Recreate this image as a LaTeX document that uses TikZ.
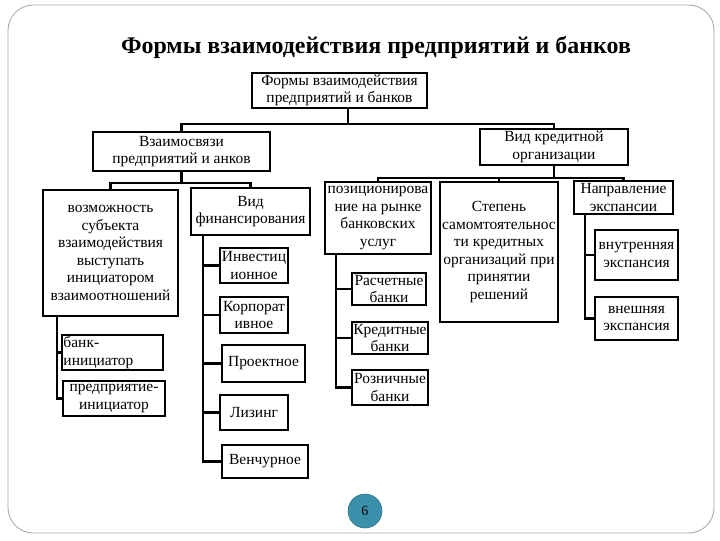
\documentclass[tikz,border=0pt]{standalone}
\usepackage{fontspec}
\setmainfont{Liberation Serif}
\usetikzlibrary{positioning}
\definecolor{pnum}{RGB}{58,143,170}

\begin{document}
\begin{tikzpicture}[
   x=0.025cm,y=-0.025cm,
   box/.style={draw,line width=2.1pt,align=center,inner sep=1pt,
               font=\fontsize{11}{12.5}\selectfont},
   sz/.style 2 args={minimum width=#1*0.025cm,minimum height=#2*0.025cm},
   conn/.style={line width=1.8pt}
 ]
  \useasboundingbox (0,0) rectangle (720,540);
  \draw[gray!70,line width=0.6pt,rounded corners=18pt] (8,5) rectangle (714,533);
  \node[font=\fontsize{17}{20}\selectfont\bfseries] (title) at (376,47) {Формы взаимодействия предприятий и банков};

  \node[box,sz={175}{35}] (root) at (339.5,90.5) {Формы взаимодействия\\предприятий и банков};
  \node[box,sz={177}{39}] (vz) at (181.5,151.5) {Взаимосвязи\\предприятий и анков};
  \node[box,sz={148}{36}] (vid) at (554,147) {Вид кредитной\\организации};

  \node[box,sz={135}{126}] (vozm) at (110.5,253) {возможность\\субъекта\\взаимодействия\\выступать\\инициатором\\взаимоотношений};
  \node[box,sz={101}{35},align=left,text width=2.45cm] (bank) at (112.5,352.5) {банк-\\инициатор};
  \node[box,sz={102}{35}] (pred) at (114,398.5) {предприятие-\\инициатор};

  \node[box,sz={119}{47}] (fin) at (250.5,211.5) {Вид\\финансирования};
  \node[box,sz={68}{35}] (inv) at (254,265.5) {Инвестиц\\ионное};
  \node[box,sz={68}{36}] (korp) at (254,315) {Корпорат\\ивное};
  \node[box,sz={83}{37}] (proekt) at (263.5,363.5) {Проектное};
  \node[box,sz={68}{35}] (lizing) at (254,412.5) {Лизинг};
  \node[box,sz={86}{33}] (venchur) at (265,461.5) {Венчурное};

  \node[box,sz={106}{72}] (poz) at (378,218) {позиционирова\\ние на рынке\\банковских\\услуг};
  \node[box,sz={74}{32}] (rasch) at (389,289) {Расчетные\\банки};
  \node[box,sz={76}{32}] (kred) at (390,338) {Кредитные\\банки};
  \node[box,sz={76}{35}] (rozn) at (390,387.5) {Розничные\\банки};

  \node[box,sz={118}{140}] (step) at (499,252) {Степень\\самомтоятельнос\\ти кредитных\\организаций при\\принятии\\решений};

  \node[box,sz={99}{33}] (napr) at (623.5,197.5) {Направление\\экспансии};
  \node[box,sz={83}{50}] (vnutr) at (636.5,255) {внутренняя\\экспансия};
  \node[box,sz={83}{43}] (vnesh) at (636.5,318.5) {внешняя\\экспансия};

  \coordinate (b1) at (0,124);
  \coordinate (b2) at (0,183);
  \coordinate (b3) at (0,178);
  \coordinate (r1) at (348,0);
  \draw[conn] (r1 |- root.south) -- (r1 |- b1);
  \draw[conn] (vz.north) |- (b1 -| vid.north) -- (vid.north);
  \draw[conn] (vz.south) -- (vz.south |- b2);
  \draw[conn] (vozm.north) |- (b2 -| fin.north) -- (fin.north);
  \draw[conn] (vid.south) -- (vid.south |- b3);
  \draw[conn] (poz.north) |- (b3 -| napr.north) -- (napr.north);
  \draw[conn] (step.north) -- (step.north |- b3);

  \coordinate (s1) at (57,0);
  \coordinate (s2) at (203,0);
  \coordinate (s3) at (336,0);
  \coordinate (s4) at (585,0);
  \foreach \n in {bank,pred} \draw[conn] (s1 |- vozm.south) |- (\n.west);
  \foreach \n in {inv,korp,proekt,lizing,venchur} \draw[conn] (s2 |- fin.south) |- (\n.west);
  \foreach \n in {rasch,kred,rozn} \draw[conn] (s3 |- poz.south) |- (\n.west);
  \foreach \n in {vnutr,vnesh} \draw[conn] (s4 |- napr.south) |- (\n.west);

  \node[circle,fill=pnum,draw=pnum!80!black,minimum size=34*0.025cm,inner sep=0pt,
        font=\fontsize{10}{11}\selectfont] (page) at (365,511) {6};
 \end{tikzpicture}
\end{document}
